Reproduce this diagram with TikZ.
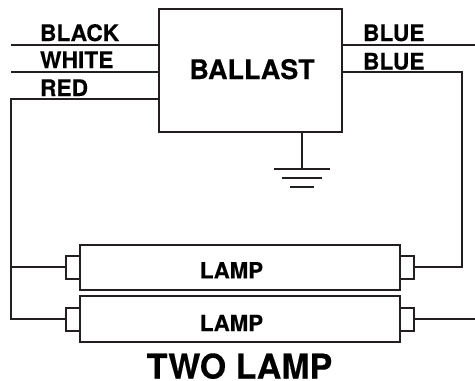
\documentclass[tikz,border=0pt]{standalone}
\usepackage{fontspec}
\setmainfont{TeX Gyre Heros}[BoldFeatures={FakeBold=0.3}]
\definecolor{ink}{HTML}{231F20}
\tikzset{
  wire/.style={draw=ink,line width=2pt,line cap=butt,line join=miter},
  box/.style={draw=ink,line width=2pt,fill=white,inner sep=0pt,outer sep=0pt,rectangle},
  cap box/.style={box,minimum width=14pt,minimum height=23pt},
  lamp box/.style={box,minimum width=319.7pt,minimum height=45.5pt},
  lbl/.style={inner sep=0pt,outer sep=0pt,text=black,anchor=base west,font=\fontsize{22.8pt}{24pt}\selectfont\bfseries},
  ctr/.style={inner sep=0pt,outer sep=0pt,text=black,anchor=base,font=\fontsize{22.2pt}{24pt}\selectfont\bfseries},
}
\begin{document}
\begin{tikzpicture}[x=1pt,y=-1pt]
\useasboundingbox (0,0) rectangle (475,381);
% ballast
\node[box,minimum width=183pt,minimum height=123pt] (ballast) at (250,70) {};
\node[ctr,font=\fontsize{27pt}{28pt}\selectfont\bfseries] (ballasttext) at (252,79) {BALLAST};
% lamps
\node[lamp box] (lamp1) at (239.85,267.25) {};
\node[lamp box] (lamp2) at (239.85,319) {};
\node[ctr] (lamp1text) at (231.5,278.3) {LAMP};
\node[ctr] (lamp2text) at (231.5,331) {LAMP};
% lamp end caps
\node[cap box,anchor=east] (capL1) at (lamp1.west) {};
\node[cap box,anchor=west] (capR1) at (lamp1.east) {};
\node[cap box,anchor=east] (capL2) at (lamp2.west) {};
\node[cap box,anchor=west] (capR2) at (lamp2.east) {};
% free ends and bends
\coordinate (blackend) at (11,45);
\coordinate (whiteend) at (11,71.5);
\coordinate (redcorner) at (11,99);
\coordinate (blueend) at (475,45);
\coordinate (bluecorner) at (462,71.5);
\coordinate (outend) at (475,319);
\coordinate (balB) at (ballast.west |- blackend);
\coordinate (balW) at (ballast.west |- whiteend);
\coordinate (balR) at (ballast.west |- redcorner);
\coordinate (balU) at (ballast.east |- blueend);
\coordinate (balV) at (ballast.east |- bluecorner);
% wires
\draw[wire] (blackend) -- (balB);
\draw[wire] (whiteend) -- (balW);
\draw[wire] (balR) -- (redcorner) |- (capL2.west);
\draw[wire] (redcorner |- capL1.west) -- (capL1.west);
\draw[wire] (balU) -- (blueend);
\draw[wire] (balV) -- (bluecorner) |- (capR1.east);
\draw[wire] (capR2.east) -- (outend);
% ground
\coordinate (gndtop) at (301.7,168.5);
\draw[wire] (gndtop |- ballast.south) -- (gndtop);
\coordinate (g1a) at (274,168.5);
\coordinate (g1b) at (330,168.5);
\coordinate (g2a) at (282,177.5);
\coordinate (g2b) at (322,177.5);
\coordinate (g3a) at (289.5,186.5);
\coordinate (g3b) at (314,186.5);
\draw[wire] (g1a) -- (g1b);
\draw[wire] (g2a) -- (g2b);
\draw[wire] (g3a) -- (g3b);
% labels
\node[lbl] (lblack) at (40,41) {BLACK};
\node[lbl] (lwhite) at (40,68) {WHITE};
\node[lbl] (lred) at (40,96) {RED};
\node[lbl] (lblue1) at (363,41) {BLUE};
\node[lbl] (lblue2) at (363,69.5) {BLUE};
\node[ctr,font=\fontsize{34pt}{36pt}\selectfont\bfseries] (title) at (239.5,378.5) {TWO LAMP};
\end{tikzpicture}
\end{document}
